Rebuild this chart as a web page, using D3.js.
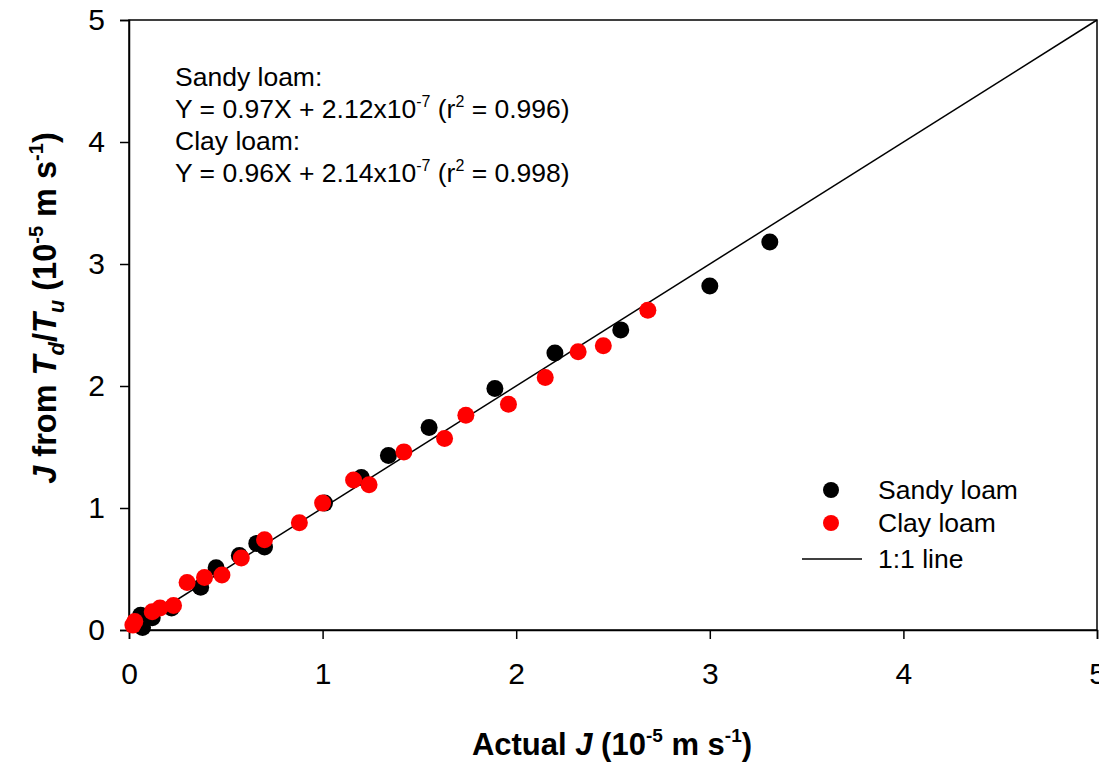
<!DOCTYPE html>
<html>
<head>
<meta charset="utf-8">
<script src="https://cdn.jsdelivr.net/npm/d3@7"></script>
<style>
body{margin:0;background:#fff;}
text{font-family:"Liberation Sans",Arial,sans-serif;}
</style>
</head>
<body>
<svg id="chart" width="1099" height="764"></svg>
<script>
const sandyX = [3.31,3.00,2.54,2.20,1.89,1.55,1.34,1.20,1.01,0.70,0.66,0.57,0.45,0.37,0.22,0.12,0.06,0.07];
const sandyY = [3.18,2.82,2.46,2.27,1.98,1.66,1.43,1.25,1.04,0.68,0.71,0.61,0.51,0.35,0.18,0.10,0.12,0.02];
const clayX = [2.68,2.45,2.32,2.15,1.96,1.74,1.63,1.42,1.24,1.16,1.00,0.88,0.70,0.58,0.48,0.39,0.30,0.23,0.16,0.12,0.03,0.02];
const clayY = [2.62,2.33,2.28,2.07,1.85,1.76,1.57,1.46,1.19,1.23,1.04,0.88,0.74,0.59,0.45,0.43,0.39,0.20,0.18,0.15,0.07,0.04];
const xTicks = [0,1,2,3,4,5];
const yTicks = [0,1,2,3,4,5];
const oneToOne = [0,5];

const svg = d3.select("#chart");
const m = {left:129, right:2, top:20, bottom:134};
const W = 1099, H = 764;
const x = d3.scaleLinear().domain([0,5]).range([m.left, W-m.right]);
const y = d3.scaleLinear().domain([0,5]).range([H-m.bottom, m.top]);

// frame
svg.append("rect").attr("x",x(0)).attr("y",y(5)).attr("width",x(5)-x(0)).attr("height",y(0)-y(5))
  .attr("fill","none").attr("stroke","#000").attr("stroke-width",1.5);

const xa = svg.append("g").attr("transform",`translate(0,${y(0)})`)
  .call(d3.axisBottom(x).tickValues(xTicks).tickFormat(d3.format("d")).tickSize(9).tickPadding(24));
const ya = svg.append("g").attr("transform",`translate(${x(0)},0)`)
  .call(d3.axisLeft(y).tickValues(yTicks).tickFormat(d3.format("d")).tickSize(9).tickPadding(15));
[xa,ya].forEach(a=>{
  a.selectAll("path").attr("stroke","#000").attr("stroke-width",1.5);
  a.selectAll("line").attr("stroke","#000").attr("stroke-width",1.5);
  a.selectAll("text").attr("font-size",30).attr("fill","#000").style("font-family","'Liberation Sans',Arial,sans-serif");
});

// 1:1 line
svg.append("line").attr("x1",x(oneToOne[0])).attr("y1",y(oneToOne[0])).attr("x2",x(oneToOne[1])).attr("y2",y(oneToOne[1]))
  .attr("stroke","#000").attr("stroke-width",1.5);

const sandy = sandyX.map((v,i)=>({x:v,y:sandyY[i]}));
const clay = clayX.map((v,i)=>({x:v,y:clayY[i]}));
svg.append("g").selectAll("circle").data(sandy).join("circle")
  .attr("cx",d=>x(d.x)).attr("cy",d=>y(d.y)).attr("r",8.5).attr("fill","#000");
svg.append("g").selectAll("circle").data(clay).join("circle")
  .attr("cx",d=>x(d.x)).attr("cy",d=>y(d.y)).attr("r",8.5).attr("fill","#ff0000");

// annotation
const ann = svg.append("g").attr("font-size",26.5).attr("fill","#000");
function eqLine(yy, slope, intercept, r2){
  const t = ann.append("text").attr("x",175).attr("y",yy);
  t.append("tspan").text(`Y = ${slope}X + ${intercept}x10`);
  t.append("tspan").attr("dy",-11).attr("font-size",16).text("-7");
  t.append("tspan").attr("dy",11).text(" (r");
  t.append("tspan").attr("dy",-11).attr("font-size",16).text("2");
  t.append("tspan").attr("dy",11).text(` = ${r2})`);
}
ann.append("text").attr("x",175).attr("y",86).text("Sandy loam:");
eqLine(118,"0.97","2.12","0.996");
ann.append("text").attr("x",175).attr("y",150).text("Clay loam:");
eqLine(182,"0.96","2.14","0.998");

// legend
const lg = svg.append("g").attr("font-size",26.5).attr("fill","#000");
lg.append("circle").attr("cx",831).attr("cy",490).attr("r",8).attr("fill","#000");
lg.append("text").attr("x",878).attr("y",499).text("Sandy loam");
lg.append("circle").attr("cx",831).attr("cy",523).attr("r",8).attr("fill","#ff0000");
lg.append("text").attr("x",878).attr("y",532).text("Clay loam");
lg.append("line").attr("x1",802).attr("x2",862).attr("y1",559).attr("y2",559).attr("stroke","#000").attr("stroke-width",1.5);
lg.append("text").attr("x",878).attr("y",568).text("1:1 line");

// x title
const xt = svg.append("text").attr("x",612).attr("y",755).attr("text-anchor","middle")
  .attr("font-size",31).attr("font-weight","bold").attr("fill","#000");
xt.append("tspan").text("Actual ");
xt.append("tspan").attr("font-style","italic").text("J");
xt.append("tspan").text(" (10");
xt.append("tspan").attr("dy",-13).attr("font-size",19).text("-5");
xt.append("tspan").attr("dy",13).text(" m s");
xt.append("tspan").attr("dy",-13).attr("font-size",19).text("-1");
xt.append("tspan").attr("dy",13).text(")");

// y title
const yt = svg.append("text").attr("transform","translate(56,308) rotate(-90)").attr("text-anchor","middle")
  .attr("font-size",32.5).attr("font-weight","bold").attr("fill","#000");
yt.append("tspan").attr("font-style","italic").text("J");
yt.append("tspan").text(" from ");
yt.append("tspan").attr("font-style","italic").text("T");
yt.append("tspan").attr("font-style","italic").attr("dy",8).attr("font-size",22).text("d");
yt.append("tspan").attr("dy",-8).text("/");
yt.append("tspan").attr("font-style","italic").text("T");
yt.append("tspan").attr("font-style","italic").attr("dy",8).attr("font-size",22).text("u");
yt.append("tspan").attr("dy",-8).text(" (10");
yt.append("tspan").attr("dy",-13).attr("font-size",20).text("-5");
yt.append("tspan").attr("dy",13).text(" m s");
yt.append("tspan").attr("dy",-13).attr("font-size",20).text("-1");
yt.append("tspan").attr("dy",13).text(")");
</script>
</body>
</html>
